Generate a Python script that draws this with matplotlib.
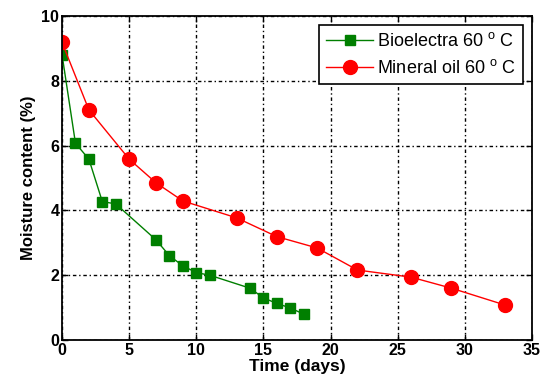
import matplotlib

matplotlib.use("Agg")
import matplotlib.pyplot as plt

# Drying curves, moisture content over time
BIO_DAYS = [0, 1, 2, 3, 4, 7, 8, 9, 10, 11, 14, 15, 16, 17, 18]
BIO_MOISTURE = [8.8, 6.07, 5.58, 4.27, 4.2, 3.09, 2.6, 2.29, 2.08, 2.0, 1.6, 1.3, 1.13, 0.99, 0.8]

OIL_DAYS = [0, 2, 5, 7, 9, 13, 16, 19, 22, 26, 29, 33]
OIL_MOISTURE = [9.18, 7.1, 5.58, 4.85, 4.29, 3.77, 3.19, 2.84, 2.16, 1.94, 1.6, 1.08]

X_TICKS = [0, 5, 10, 15, 20, 25, 30, 35]
Y_TICKS = [0, 2, 4, 6, 8, 10]

plt.rcParams.update(
    {
        "font.family": ["Liberation Sans", "DejaVu Sans"],
        "font.size": 10,
        "mathtext.fontset": "custom",
        "mathtext.rm": "Liberation Sans",
        "xtick.direction": "in",
        "ytick.direction": "in",
        "xtick.top": True,
        "ytick.right": True,
    }
)

fig = plt.figure(figsize=(5.49, 3.86), dpi=100)
ax = fig.add_axes([0.113, 0.119, 0.856, 0.840])

ax.plot(
    BIO_DAYS,
    BIO_MOISTURE,
    color="#007F00",
    linewidth=1.0,
    marker="s",
    markersize=7.5,
    markerfacecolor="#007F00",
    markeredgecolor="#007F00",
    label="Bioelectra 60 $^{\\mathrm{o}}$ C",
)
ax.plot(
    OIL_DAYS,
    OIL_MOISTURE,
    color="#FF0000",
    linewidth=1.0,
    marker="o",
    markersize=10,
    markerfacecolor="#FF0000",
    markeredgecolor="#FF0000",
    label="Mineral oil 60 $^{\\mathrm{o}}$ C",
)

ax.set_xlim(0, 35)
ax.set_ylim(0, 10)
ax.set_xticks(X_TICKS)
ax.set_yticks(Y_TICKS)
ax.grid(True, color="black", linestyle=(0, (2.5, 2, 1, 2)), linewidth=1.0)
ax.set_axisbelow(True)
for spine in ax.spines.values():
    spine.set_linewidth(1.3)
ax.tick_params(length=4, width=1.0, labelsize=11.5, pad=2)
for label in ax.get_xticklabels() + ax.get_yticklabels():
    label.set_fontweight("bold")

ax.set_xlabel("Time (days)", fontsize=12.5, fontweight="bold", labelpad=1)
ax.set_ylabel("Moisture content (%)", fontsize=12, fontweight="bold", labelpad=4)

leg = ax.legend(
    loc="upper right",
    fontsize=13,
    frameon=True,
    fancybox=False,
    edgecolor="black",
    framealpha=1.0,
    borderpad=0.4,
    labelspacing=0.5,
    handlelength=2.6,
    handletextpad=0.2,
    borderaxespad=0.5,
)
leg.get_frame().set_linewidth(1.2)

fig.savefig("out.png", dpi=100)
